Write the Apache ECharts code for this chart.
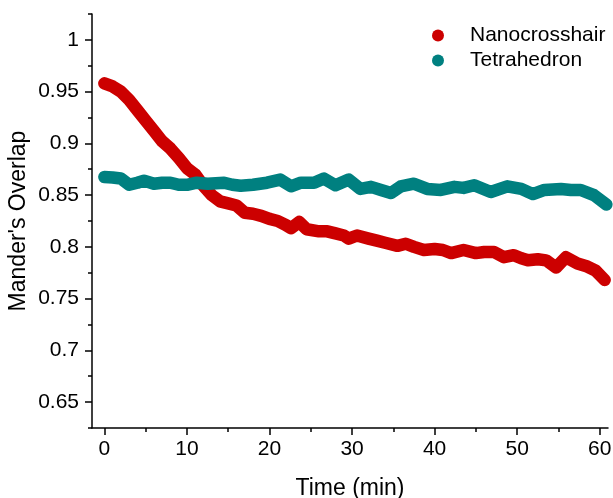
<!DOCTYPE html>
<html><head><meta charset="utf-8">
<script src="https://cdn.jsdelivr.net/npm/echarts@6/dist/echarts.min.js"></script>
<style>html,body{margin:0;padding:0;background:#fff}#c{width:613px;height:498px}</style>
</head><body><div id="c"></div>
<script>
const seriesNames = ['Nanocrosshair', 'Tetrahedron'];
const xTicks = [0, 10, 20, 30, 40, 50, 60];
const xMinorTicks = [5, 15, 25, 35, 45, 55];
const yTicks = [0.65, 0.7, 0.75, 0.8, 0.85, 0.9, 0.95, 1];
const yMinorTicks = [0.625, 0.675, 0.725, 0.775, 0.825, 0.875, 0.925, 0.975, 1.025];
const nanoTime = [0,1,2,3,4,5,6,7,8,9,10,11,12,13,14,15,16,17,18,19,20,21,22,22.6,23.6,24.5,26,27,28,29,29.6,30.6,32,33,34,35.5,36.5,37.5,38.7,40,41,42,43.5,45,46,47.2,48.4,49.6,50.5,51.3,52.5,53.5,54.7,55.9,57.3,58.5,59.5,60.6];
const nanoValue = [0.958,0.955,0.950,0.942,0.932,0.922,0.912,0.902,0.895,0.886,0.876,0.870,0.859,0.850,0.844,0.842,0.840,0.833,0.832,0.830,0.827,0.825,0.821,0.818,0.824,0.817,0.815,0.815,0.813,0.811,0.808,0.811,0.808,0.806,0.804,0.801,0.803,0.800,0.797,0.798,0.797,0.794,0.797,0.794,0.795,0.795,0.790,0.792,0.789,0.787,0.788,0.787,0.780,0.790,0.784,0.781,0.777,0.768];
const tetraTime = [0,1,2,3,4,4.8,6,7,8,9,10,11.2,12.5,14.5,15.5,16.5,18,19.7,21.3,22.6,23.8,25.4,26.6,28,29.6,31,32.3,33.5,34.7,35.9,37.5,39.1,40.75,42.4,43.5,44.8,46.8,48.8,50.5,51.9,53.3,55.3,56.5,57.7,59.3,60.8];
const tetraValue = [0.8675,0.867,0.866,0.860,0.862,0.864,0.861,0.862,0.862,0.860,0.860,0.862,0.861,0.862,0.860,0.859,0.860,0.862,0.865,0.8585,0.862,0.862,0.866,0.8595,0.865,0.856,0.858,0.855,0.852,0.8585,0.861,0.856,0.855,0.858,0.857,0.8595,0.853,0.8585,0.856,0.851,0.855,0.856,0.855,0.855,0.850,0.841];
const colors = ['#CC0000', '#008080'];

const font = 'Arial, "Liberation Sans", sans-serif';
const chart = echarts.init(document.getElementById('c'), null, {renderer: 'canvas'});
const zip = (a, b) => a.map((t, i) => [t, b[i]]);
const fmt = v => String(+(+v).toFixed(3));
chart.setOption({
  animation: false,
  backgroundColor: '#fff',
  grid: {left: 92, right: 5, top: 14, bottom: 70, containLabel: false, outerBoundsMode: 'none'},
  legend: {
    data: seriesNames.map(n => ({name: n, icon: 'circle'})),
    orient: 'vertical', left: 432, top: 25, padding: 0, itemWidth: 12, itemHeight: 12, itemGap: 4,
    textStyle: {fontFamily: font, fontSize: 21, color: '#000', padding: [0, 0, 0, 21]}
  },
  xAxis: [{
    type: 'value', min: -1.5, max: 61,
    name: 'Time (min)', nameLocation: 'middle', nameGap: 49, nameMoveOverlap: false,
    nameTextStyle: {fontFamily: font, fontSize: 23, color: '#000'},
    axisLine: {show: true, onZero: false, lineStyle: {color: '#000', width: 1.5}},
    axisTick: {show: true, inside: false, length: 7, customValues: xTicks, lineStyle: {color: '#000', width: 1.5}},
    axisLabel: {show: true, customValues: xTicks, formatter: fmt, fontFamily: font, fontSize: 21, color: '#000', margin: 11},
    splitLine: {show: false}
  }, {
    type: 'value', min: -1.5, max: 61, position: 'bottom',
    axisLine: {show: false, onZero: false},
    axisTick: {show: true, inside: false, length: 4, customValues: xMinorTicks, lineStyle: {color: '#000', width: 1.5}},
    axisLabel: {show: false}, splitLine: {show: false}
  }],
  yAxis: [{
    type: 'value', min: 0.625, max: 1.025,
    name: "Mander's Overlap", nameLocation: 'middle', nameGap: 62, nameMoveOverlap: false,
    nameTextStyle: {fontFamily: font, fontSize: 23, color: '#000'},
    axisLine: {show: true, onZero: false, lineStyle: {color: '#000', width: 1.5}},
    axisTick: {show: true, inside: false, length: 7, customValues: yTicks, lineStyle: {color: '#000', width: 1.5}},
    axisLabel: {show: true, customValues: yTicks, formatter: fmt, fontFamily: font, fontSize: 21, color: '#000', margin: 13},
    splitLine: {show: false}
  }, {
    type: 'value', min: 0.625, max: 1.025, position: 'left',
    axisLine: {show: false, onZero: false},
    axisTick: {show: true, inside: false, length: 4, customValues: yMinorTicks, lineStyle: {color: '#000', width: 1.5}},
    axisLabel: {show: false}, splitLine: {show: false}
  }],
  series: [
    {name: seriesNames[0], type: 'line', data: zip(nanoTime, nanoValue), showSymbol: false, color: colors[0],
     lineStyle: {width: 12.5, cap: 'round', join: 'round', color: colors[0]}, itemStyle: {color: colors[0]}},
    {name: seriesNames[1], type: 'line', data: zip(tetraTime, tetraValue), showSymbol: false, color: colors[1],
     lineStyle: {width: 12.5, cap: 'round', join: 'round', color: colors[1]}, itemStyle: {color: colors[1]}}
  ]
});
</script></body></html>
